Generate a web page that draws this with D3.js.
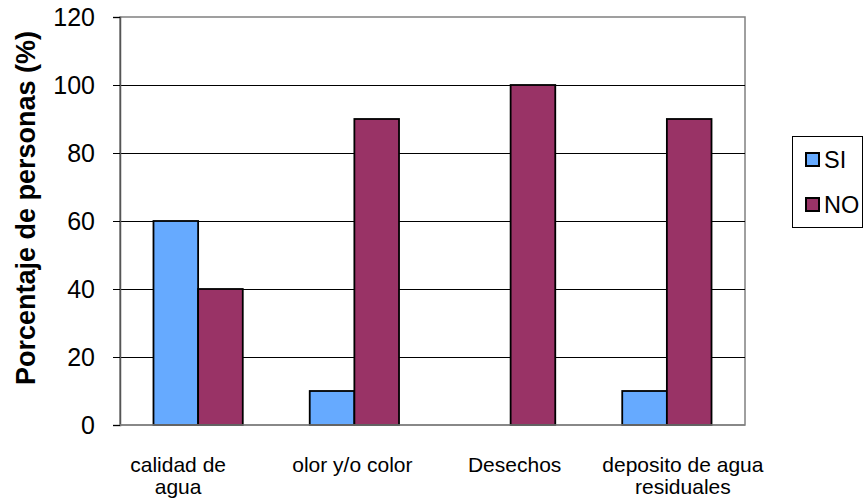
<!DOCTYPE html>
<html>
<head>
<meta charset="utf-8">
<script src="https://cdn.jsdelivr.net/npm/d3@7"></script>
<style>
  html, body { margin: 0; padding: 0; background: #fff; }
  svg { display: block; font-family: "Liberation Sans", Arial, sans-serif; }
</style>
</head>
<body>
<svg id="chart" width="864" height="502"></svg>
<script>
// Categories and series values (percent of people)
const categories = ["calidad de agua", "olor y/o color", "Desechos", "deposito de agua residuales"];
const categoryLines = [["calidad de", "agua"], ["olor y/o color"], ["Desechos"], ["deposito de agua", "residuales"]];
const seriesNames = ["SI", "NO"];
const siValues = [60, 10, 0, 10];
const noValues = [40, 90, 100, 90];
const yTicks = [0, 20, 40, 60, 80, 100, 120];
const seriesColors = ["#66aaff", "#993366"];

const svg = d3.select("#chart");
const plot = { left: 120, top: 17, right: 745, bottom: 425 };

const x = d3.scaleBand().domain(categories).range([plot.left, plot.right]).padding(0);
const y = d3.scaleLinear().domain([0, 120]).range([plot.bottom, plot.top]);

// inner band for the two bars inside each category (gap width ~150%)
const barW = x.bandwidth() / 3.5;
const xs = d3.scaleBand().domain(seriesNames).range([0, barW * 2]);

// plot frame
svg.append("rect")
  .attr("x", plot.left).attr("y", plot.top)
  .attr("width", plot.right - plot.left).attr("height", plot.bottom - plot.top)
  .attr("fill", "#fff").attr("stroke", "#808080").attr("stroke-width", 1.5);

// gridlines
svg.append("g").selectAll("line")
  .data(yTicks.filter(d => d > 0 && d < 120))
  .join("line")
  .attr("x1", plot.left).attr("x2", plot.right)
  .attr("y1", d => Math.round(y(d)) + 0.5).attr("y2", d => Math.round(y(d)) + 0.5)
  .attr("stroke", "#000").attr("stroke-width", 1);

// y axis
const yAxis = svg.append("g")
  .attr("transform", `translate(${plot.left},0)`)
  .call(d3.axisLeft(y).tickValues(yTicks).tickSize(7).tickPadding(18));
yAxis.select(".domain").attr("stroke", "#555").attr("stroke-width", 1.5);
yAxis.selectAll(".tick line").attr("stroke", "#000");
yAxis.selectAll(".tick text")
  .attr("font-size", 25).attr("fill", "#000")
  .attr("font-family", "Liberation Sans, Arial, sans-serif");

// bars
const groups = svg.append("g").selectAll("g")
  .data(categories)
  .join("g")
  .attr("transform", c => `translate(${x(c) + x.bandwidth() / 2 - barW},0)`);

groups.selectAll("rect")
  .data((c, i) => [
    { s: "SI", v: siValues[i] },
    { s: "NO", v: noValues[i] }
  ].filter(d => d.v > 0))
  .join("rect")
  .attr("x", d => xs(d.s))
  .attr("y", d => y(d.v))
  .attr("width", xs.bandwidth())
  .attr("height", d => y(0) - y(d.v))
  .attr("fill", d => seriesColors[seriesNames.indexOf(d.s)])
  .attr("stroke", "#000").attr("stroke-width", 1.8);

// baseline
svg.append("line")
  .attr("x1", plot.left).attr("x2", plot.right)
  .attr("y1", y(0)).attr("y2", y(0))
  .attr("stroke", "#808080").attr("stroke-width", 1.5);

// category labels (wrapped)
const labelShift = [-20, -2, 4, 16];
const xLabels = svg.append("g").selectAll("text")
  .data(categories)
  .join("text")
  .attr("x", (c, i) => x(c) + x.bandwidth() / 2 + labelShift[i])
  .attr("y", 472)
  .attr("text-anchor", "middle")
  .attr("font-size", 21).attr("fill", "#000");
xLabels.each(function (c, i) {
  const t = d3.select(this);
  categoryLines[i].forEach((line, k) => {
    t.append("tspan")
      .attr("x", t.attr("x"))
      .attr("dy", k === 0 ? 0 : 22)
      .text(line);
  });
});

// y axis title
svg.append("text")
  .attr("transform", "translate(35,208) rotate(-90)")
  .attr("text-anchor", "middle")
  .attr("font-size", 27).attr("font-weight", "bold")
  .text("Porcentaje de personas (%)");

// legend
const lg = svg.append("g");
lg.append("rect")
  .attr("x", 792.5).attr("y", 136.5).attr("width", 70).attr("height", 91)
  .attr("fill", "#fff").attr("stroke", "#000").attr("stroke-width", 1);
const items = lg.selectAll("g.item")
  .data(seriesNames)
  .join("g")
  .attr("transform", (d, i) => `translate(806,${153 + i * 45})`);
items.append("rect")
  .attr("width", 13).attr("height", 13)
  .attr("fill", (d, i) => seriesColors[i])
  .attr("stroke", "#000").attr("stroke-width", 2);
items.append("text")
  .attr("x", 18).attr("y", 15)
  .attr("font-size", 23.5).attr("fill", "#000")
  .text(d => d);
</script>
</body>
</html>
